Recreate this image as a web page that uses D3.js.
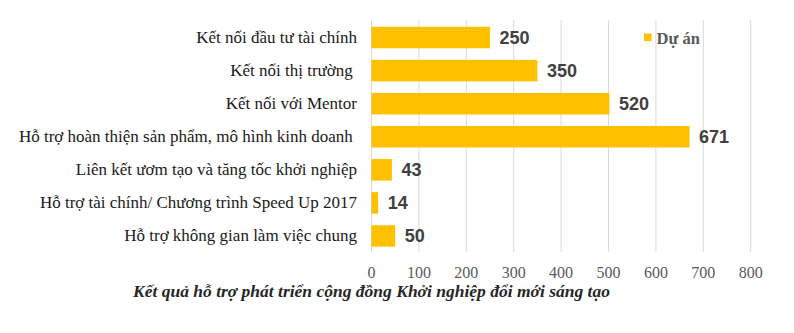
<!DOCTYPE html>
<html lang="vi">
<head>
    <meta charset="utf-8">
    <title>Kết quả hỗ trợ</title>
    <style>
        body{ margin:0; background:#fff; }
        #chart svg{ display:block; }
    </style>
    <script src="https://cdn.jsdelivr.net/npm/d3@7"></script>
</head>
<body>
<div id="chart"></div>
<script>
    // du lieu
    var categories = [
        "Kết nối đầu tư tài chính",
        "Kết nối thị trường ",
        "Kết nối với Mentor",
        "Hỗ trợ hoàn thiện sản phẩm, mô hình kinh doanh ",
        "Liên kết ươm tạo và tăng tốc khởi nghiệp",
        "Hỗ trợ tài chính/ Chương trình Speed Up 2017",
        "Hỗ trợ không gian làm việc chung"
    ];
    // chieu dai cot doc tu hinh (cot "520" trong anh goc chi dai ~502)
    var barValues = [250, 350, 502, 671, 43, 14, 50];
    var valueLabels = ["250", "350", "520", "671", "43", "14", "50"];
    var xTicks = [0, 100, 200, 300, 400, 500, 600, 700, 800];
    var seriesName = "Dự án";
    var caption = "Kết quả hỗ trợ phát triển cộng đồng Khởi nghiệp đổi mới sáng tạo";

    var W = 794, H = 333;
    var svg = d3.select("#chart").append("svg")
        .attr("width", W).attr("height", H);

    var x = d3.scaleLinear().domain([0, 800]).range([371.5, 750.7]);
    var y = d3.scaleBand().domain(categories).range([21, 252.5])
        .paddingInner(0.35).paddingOuter(0.175);

    // luoi doc
    svg.append("g").selectAll("line")
        .data(xTicks).enter().append("line")
        .attr("x1", function(d){ return x(d); })
        .attr("x2", function(d){ return x(d); })
        .attr("y1", 20).attr("y2", 252)
        .attr("stroke", "#d9d9d9").attr("stroke-width", 1);

    // cot
    svg.append("g").selectAll("rect")
        .data(barValues).enter().append("rect")
        .attr("x", x(0))
        .attr("y", function(d, i){ return y(categories[i]); })
        .attr("width", function(d){ return x(d) - x(0); })
        .attr("height", y.bandwidth())
        .attr("fill", "#FFC000");

    // nhan gia tri
    svg.append("g").selectAll("text")
        .data(barValues).enter().append("text")
        .attr("x", function(d){ return x(d) + 9.5; })
        .attr("y", function(d, i){ return y(categories[i]) + y.bandwidth()/2 + 6.5; })
        .attr("font-family", "'Liberation Sans', Arial, sans-serif")
        .attr("font-weight", "bold")
        .attr("font-size", "18px")
        .attr("fill", "#404040")
        .text(function(d, i){ return valueLabels[i]; });

    // nhan danh muc
    svg.append("g").selectAll("text")
        .data(categories).enter().append("text")
        .attr("x", 357)
        .attr("y", function(d){ return y(d) + y.bandwidth()/2 + 5.5; })
        .attr("text-anchor", "end")
        .style("white-space", "pre")
        .attr("font-family", "'Liberation Serif', 'Times New Roman', serif")
        .attr("font-size", "17px")
        .attr("fill", "#1a1a1a")
        .text(function(d){ return d; });

    // truc x
    svg.append("g").selectAll("text")
        .data(xTicks).enter().append("text")
        .attr("x", function(d){ return x(d); })
        .attr("y", 277.5)
        .attr("text-anchor", "middle")
        .attr("font-family", "'Liberation Serif', 'Times New Roman', serif")
        .attr("font-size", "16px")
        .attr("fill", "#595959")
        .text(function(d){ return d; });

    // chu giai
    var lg = svg.append("g");
    lg.append("rect").attr("x", 644).attr("y", 33.5).attr("width", 7.5).attr("height", 7.5)
        .attr("fill", "#FFC000");
    lg.append("text").attr("x", 656.5).attr("y", 44)
        .attr("font-family", "'Liberation Serif', 'Times New Roman', serif")
        .attr("font-weight", "bold")
        .attr("font-size", "16.5px")
        .attr("fill", "#595959")
        .text(seriesName);

    // tieu de
    svg.append("text")
        .attr("x", 371.5).attr("y", 297)
        .attr("text-anchor", "middle")
        .attr("font-family", "'Liberation Serif', 'Times New Roman', serif")
        .attr("font-weight", "bold")
        .attr("font-style", "italic")
        .attr("font-size", "17.5px")
        .attr("fill", "#262626")
        .text(caption);
</script>
</body>
</html>
